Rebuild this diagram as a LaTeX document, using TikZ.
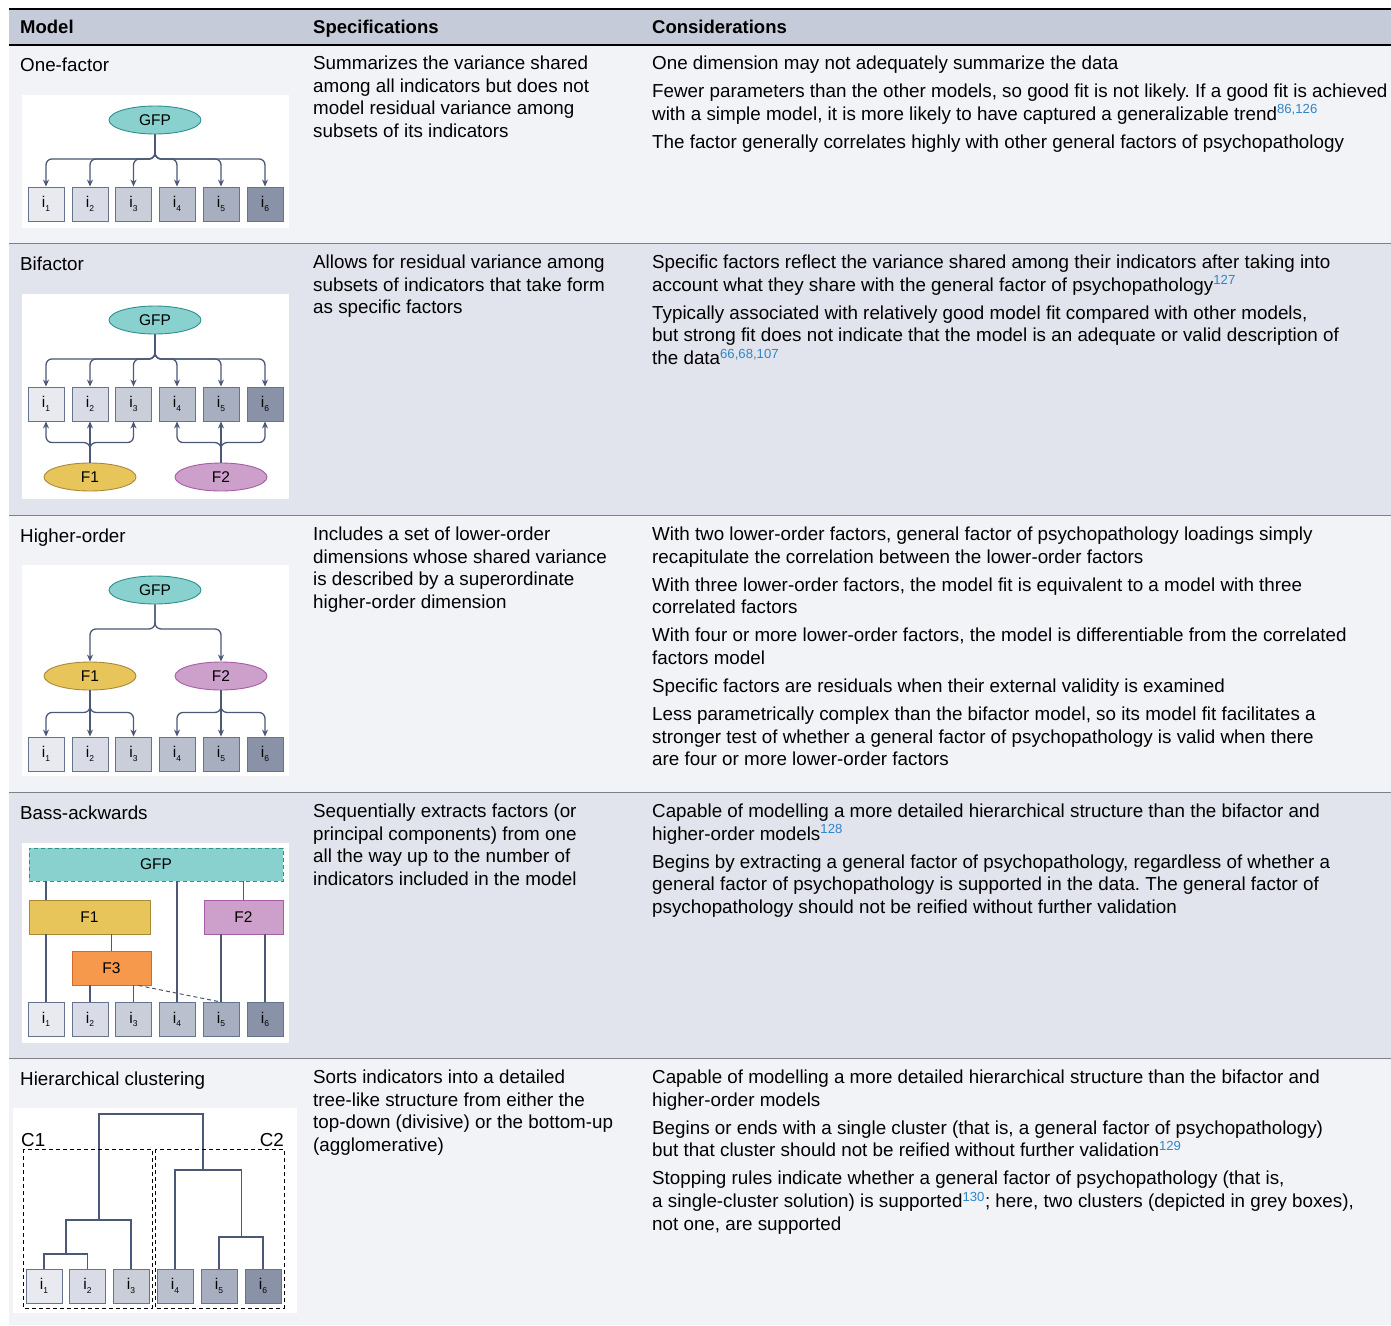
\documentclass[tikz,border=0pt]{standalone}
\usepackage{fontspec}
\setmainfont{Liberation Sans}
\usetikzlibrary{arrows.meta,shapes.geometric}
\frenchspacing

\definecolor{hdr}{HTML}{C5CBD9}
\definecolor{rowa}{HTML}{F2F3F7}
\definecolor{rowb}{HTML}{E1E4EC}
\definecolor{sepgray}{HTML}{7C818B}
\definecolor{edgec}{HTML}{4B5976}
\definecolor{boxline}{HTML}{66738F}
\definecolor{g1}{HTML}{E9EAF0}
\definecolor{g2}{HTML}{D9DCE6}
\definecolor{g3}{HTML}{CACED9}
\definecolor{g4}{HTML}{BBC0CF}
\definecolor{g5}{HTML}{A7AEC0}
\definecolor{g6}{HTML}{8A92A8}
\definecolor{gfpfill}{HTML}{88D1CE}
\definecolor{gfpline}{HTML}{2F8F8C}
\definecolor{fonefill}{HTML}{E8C55B}
\definecolor{foneline}{HTML}{A8893A}
\definecolor{ftwofill}{HTML}{CDA0CC}
\definecolor{ftwoline}{HTML}{A65CA6}
\definecolor{fthreefill}{HTML}{F7994D}
\definecolor{fthreeline}{HTML}{D46A2A}
\definecolor{refblue}{HTML}{2E86C8}

\newcommand{\tabtext}{\fontsize{18.8}{22.7}\selectfont}
\newcommand{\indic}[1]{i\raisebox{-3.5pt}{\fontsize{8.5}{8.5}\selectfont #1}}
\newcommand{\sref}[1]{\textsuperscript{\color{refblue}#1}}

\begin{document}
\begin{tikzpicture}[x=1pt, y=-1pt,
    txt/.style={anchor=north west, yshift=15.89pt, align=left, inner sep=0pt, font=\tabtext, execute at begin node=\strut},
    hd/.style={anchor=base west, inner sep=0pt, font=\fontsize{18.5}{22.7}\selectfont\bfseries},
    bx/.style={draw=boxline, line width=0.9pt, fill=#1, minimum width=36pt, minimum height=34pt, inner sep=0pt, font=\fontsize{15.5}{15.5}\selectfont},
    lat/.style={ellipse, draw=#1line, fill=#1fill, line width=0.9pt, minimum width=92pt, minimum height=28pt, inner sep=0pt, font=\fontsize{15.5}{15.5}\selectfont},
    fac/.style={rectangle, draw=#1line, fill=#1fill, line width=0.9pt, minimum height=34pt, inner sep=0pt, font=\fontsize{15.5}{15.5}\selectfont},
    arr/.style={draw=edgec, line width=1.3pt, rounded corners=6pt, -{Stealth[length=7pt,width=6pt]}},
    ln/.style={draw=edgec, line width=1.3pt}]

        \useasboundingbox (0,0) rectangle (1391,1325);

        % table background
        \fill [hdr] (9,9) rectangle (1391,45);
        \fill [rowa] (9,45) rectangle (1391,243);
        \fill [rowb] (9,243) rectangle (1391,515);
        \fill [rowa] (9,515) rectangle (1391,792);
        \fill [rowb] (9,792) rectangle (1391,1058);
        \fill [rowa] (9,1058) rectangle (1391,1325);
        \draw [line width=1.2pt] (9,9) -- (1391,9);
        \draw [line width=1.2pt] (9,45) -- (1391,45);
        \draw [sepgray, line width=0.8pt] (9,243) -- (1391,243);
        \draw [sepgray, line width=0.8pt] (9,515) -- (1391,515);
        \draw [sepgray, line width=0.8pt] (9,792) -- (1391,792);
        \draw [sepgray, line width=0.8pt] (9,1058) -- (1391,1058);

        \node [hd] (hmodel) at (20,33) {Model};
        \node [hd] (hspec) at (313,33) {Specifications};
        \node [hd] (hcons) at (652,33) {Considerations};

        % one-factor

        \node [txt] (m1) at (20,71.5) {One-factor};
        \node [txt] (s1) at (313,71.5) {Summarizes the variance shared\\ among all indicators but does not\\ model residual variance among\\ subsets of its indicators};
        \node [txt] (k1) at (652,71.5) {One dimension may not adequately summarize the data\\[5.3pt]
            Fewer parameters than the other models, so good fit is not likely. If a good fit is achieved\\
            with a simple model, it is more likely to have captured a generalizable trend\sref{86,126}\\[5.3pt]
            The factor generally correlates highly with other general factors of psychopathology};

        \fill [white] (22,95) rectangle (289,228);
        \node [lat=gfp] (og) at (155,120) {GFP};
        \node [bx=g1] (o1) at (46,204) {\indic{1}};
        \node [bx=g2] (o2) at (90,204) {\indic{2}};
        \node [bx=g3] (o3) at (133.5,204) {\indic{3}};
        \node [bx=g4] (o4) at (177,204) {\indic{4}};
        \node [bx=g5] (o5) at (221,204) {\indic{5}};
        \node [bx=g6] (o6) at (265,204) {\indic{6}};
        \draw [arr] (og.south) -- ++(0,24.5) -| (o1.north);
        \draw [arr] (og.south) -- ++(0,24.5) -| (o2.north);
        \draw [arr] (og.south) -- ++(0,24.5) -| (o3.north);
        \draw [arr] (og.south) -- ++(0,24.5) -| (o4.north);
        \draw [arr] (og.south) -- ++(0,24.5) -| (o5.north);
        \draw [arr] (og.south) -- ++(0,24.5) -| (o6.north);

        % bifactor

        \node [txt] (m2) at (20,270.5) {Bifactor};
        \node [txt] (s2) at (313,270.5) {Allows for residual variance among\\ subsets of indicators that take form\\ as specific factors};
        \node [txt] (k2) at (652,270.5) {Specific factors reflect the variance shared among their indicators after taking into\\
            account what they share with the general factor of psychopathology\sref{127}\\[5.3pt]
            Typically associated with relatively good model fit compared with other models,\\
            but strong fit does not indicate that the model is an adequate or valid description of\\
            the data\sref{66,68,107}};

        \fill [white] (22,294) rectangle (289,499);
        \node [lat=gfp] (bg) at (155,320) {GFP};
        \node [bx=g1] (b1) at (46,404) {\indic{1}};
        \node [bx=g2] (b2) at (90,404) {\indic{2}};
        \node [bx=g3] (b3) at (133.5,404) {\indic{3}};
        \node [bx=g4] (b4) at (177,404) {\indic{4}};
        \node [bx=g5] (b5) at (221,404) {\indic{5}};
        \node [bx=g6] (b6) at (265,404) {\indic{6}};
        \node [lat=fone] (bf1) at (90,477) {F1};
        \node [lat=ftwo] (bf2) at (221,477) {F2};
        \draw [arr] (bg.south) -- ++(0,24.5) -| (b1.north);
        \draw [arr] (bg.south) -- ++(0,24.5) -| (b2.north);
        \draw [arr] (bg.south) -- ++(0,24.5) -| (b3.north);
        \draw [arr] (bg.south) -- ++(0,24.5) -| (b4.north);
        \draw [arr] (bg.south) -- ++(0,24.5) -| (b5.north);
        \draw [arr] (bg.south) -- ++(0,24.5) -| (b6.north);
        \draw [arr] (bf1.north) -- ++(0,-20) -| (b1.south);
        \draw [arr] (bf1.north) -- (b2.south);
        \draw [arr] (bf1.north) -- ++(0,-20) -| (b3.south);
        \draw [arr] (bf2.north) -- ++(0,-20) -| (b4.south);
        \draw [arr] (bf2.north) -- (b5.south);
        \draw [arr] (bf2.north) -- ++(0,-20) -| (b6.south);

        % higher-order

        \node [txt] (m3) at (20,542.5) {Higher-order};
        \node [txt] (s3) at (313,542.5) {Includes a set of lower-order\\ dimensions whose shared variance\\ is described by a superordinate\\ higher-order dimension};
        \node [txt] (k3) at (652,542.5) {With two lower-order factors, general factor of psychopathology loadings simply\\
            recapitulate the correlation between the lower-order factors\\[5.3pt]
            With three lower-order factors, the model fit is equivalent to a model with three\\
            correlated factors\\[5.3pt]
            With four or more lower-order factors, the model is differentiable from the correlated\\
            factors model\\[5.3pt]
            Specific factors are residuals when their external validity is examined\\[5.3pt]
            Less parametrically complex than the bifactor model, so its model fit facilitates a\\
            stronger test of whether a general factor of psychopathology is valid when there\\
            are four or more lower-order factors};

        \fill [white] (22,565) rectangle (289,776);
        \node [lat=gfp] (hg) at (155,590) {GFP};
        \node [lat=fone] (hf1) at (90,676) {F1};
        \node [lat=ftwo] (hf2) at (221,676) {F2};
        \node [bx=g1] (h1) at (46,754) {\indic{1}};
        \node [bx=g2] (h2) at (90,754) {\indic{2}};
        \node [bx=g3] (h3) at (133.5,754) {\indic{3}};
        \node [bx=g4] (h4) at (177,754) {\indic{4}};
        \node [bx=g5] (h5) at (221,754) {\indic{5}};
        \node [bx=g6] (h6) at (265,754) {\indic{6}};
        \draw [arr] (hg.south) -- ++(0,24.5) -| (hf1.north);
        \draw [arr] (hg.south) -- ++(0,24.5) -| (hf2.north);
        \draw [arr] (hf1.south) -- ++(0,22) -| (h1.north);
        \draw [arr] (hf1.south) -- (h2.north);
        \draw [arr] (hf1.south) -- ++(0,22) -| (h3.north);
        \draw [arr] (hf2.south) -- ++(0,22) -| (h4.north);
        \draw [arr] (hf2.south) -- (h5.north);
        \draw [arr] (hf2.south) -- ++(0,22) -| (h6.north);

        % bass-ackwards

        \node [txt] (m4) at (20,819.5) {Bass-ackwards};
        \node [txt] (s4) at (313,819.5) {Sequentially extracts factors (or\\ principal components) from one\\ all the way up to the number of\\ indicators included in the model};
        \node [txt] (k4) at (652,819.5) {Capable of modelling a more detailed hierarchical structure than the bifactor and\\
            higher-order models\sref{128}\\[5.3pt]
            Begins by extracting a general factor of psychopathology, regardless of whether a\\
            general factor of psychopathology is supported in the data. The general factor of\\
            psychopathology should not be reified without further validation};

        \fill [white] (22,843) rectangle (289,1043);
        \node [fac=gfp, dashed, dash pattern=on 4pt off 3pt, minimum width=254pt, minimum height=33pt] (sg) at (156,864.5) {GFP};
        \node [fac=fone, minimum width=121pt] (sf1) at (89.5,917) {F1};
        \node [fac=ftwo, minimum width=79pt] (sf2) at (243.5,917) {F2};
        \node [fac=fthree, minimum width=79pt] (sf3) at (111.5,968) {F3};
        \node [bx=g1] (a1) at (46,1019.5) {\indic{1}};
        \node [bx=g2] (a2) at (90,1019.5) {\indic{2}};
        \node [bx=g3] (a3) at (133.5,1019.5) {\indic{3}};
        \node [bx=g4] (a4) at (177,1019.5) {\indic{4}};
        \node [bx=g5] (a5) at (221,1019.5) {\indic{5}};
        \node [bx=g6] (a6) at (265,1019.5) {\indic{6}};
        \draw [ln] (a1.north |- sg.south) -- (a1.north |- sf1.north);
        \draw [ln] (a4.north |- sg.south) -- (a4.north);
        \draw [ln] (sf2.north |- sg.south) -- (sf2.north);
        \draw [ln] (a1.north |- sf1.south) -- (a1.north);
        \draw [ln] (sf3.north |- sf1.south) -- (sf3.north);
        \draw [ln] (a2.north |- sf3.south) -- (a2.north);
        \draw [ln] (a3.north |- sf3.south) -- (a3.north);
        \draw [ln, line width=1pt, dashed, dash pattern=on 4pt off 3pt] ([xshift=5pt]a3.north |- sf3.south) -- (a5.north);
        \draw [ln] (a5.north |- sf2.south) -- (a5.north);
        \draw [ln] (a6.north |- sf2.south) -- (a6.north);

        % hierarchical clustering

        \node [txt] (m5) at (20,1085.5) {Hierarchical clustering};
        \node [txt] (s5) at (313,1085.5) {Sorts indicators into a detailed\\ tree-like structure from either the\\ top-down (divisive) or the bottom-up\\ (agglomerative)};
        \node [txt] (k5) at (652,1085.5) {Capable of modelling a more detailed hierarchical structure than the bifactor and\\
            higher-order models\\[5.3pt]
            Begins or ends with a single cluster (that is, a general factor of psychopathology)\\
            but that cluster should not be reified without further validation\sref{129}\\[5.3pt]
            Stopping rules indicate whether a general factor of psychopathology (that is,\\
            a single-cluster solution) is supported\sref{130}; here, two clusters (depicted in grey boxes),\\
            not one, are supported};

        \fill [white] (13,1108) rectangle (297,1313);
        \node [bx=g1] (c1) at (44,1286) {\indic{1}};
        \node [bx=g2] (c2) at (87.5,1286) {\indic{2}};
        \node [bx=g3] (c3) at (131,1286) {\indic{3}};
        \node [bx=g4] (c4) at (175,1286) {\indic{4}};
        \node [bx=g5] (c5) at (219,1286) {\indic{5}};
        \node [bx=g6] (c6) at (263,1286) {\indic{6}};
        \coordinate (j12) at (66,1254);
        \coordinate (j123) at (99,1220);
        \coordinate (j56) at (241.5,1237);
        \coordinate (j456) at (203,1170);
        \coordinate (jtop) at (150,1114);
        \draw [ln] (c1.north) |- (j12) -| (c2.north);
        \draw [ln] (j12) |- (j123) -| (c3.north);
        \draw [ln] (c5.north) |- (j56) -| (c6.north);
        \draw [ln] (c4.north) |- (j456) -| (j56);
        \draw [ln] (j123) |- (jtop) -| (j456);
        \draw [line width=1pt, dash pattern=on 4pt off 3pt] (23,1149) rectangle (152,1308);
        \draw [line width=1pt, dash pattern=on 4pt off 3pt] (155,1149) rectangle (284,1308);
        \node [anchor=base west, inner sep=0pt, font=\tabtext] (cl1) at (21,1146) {C1};
        \node [anchor=base east, inner sep=0pt, font=\tabtext] (cl2) at (284,1146) {C2};

    \end{tikzpicture}
\end{document}
